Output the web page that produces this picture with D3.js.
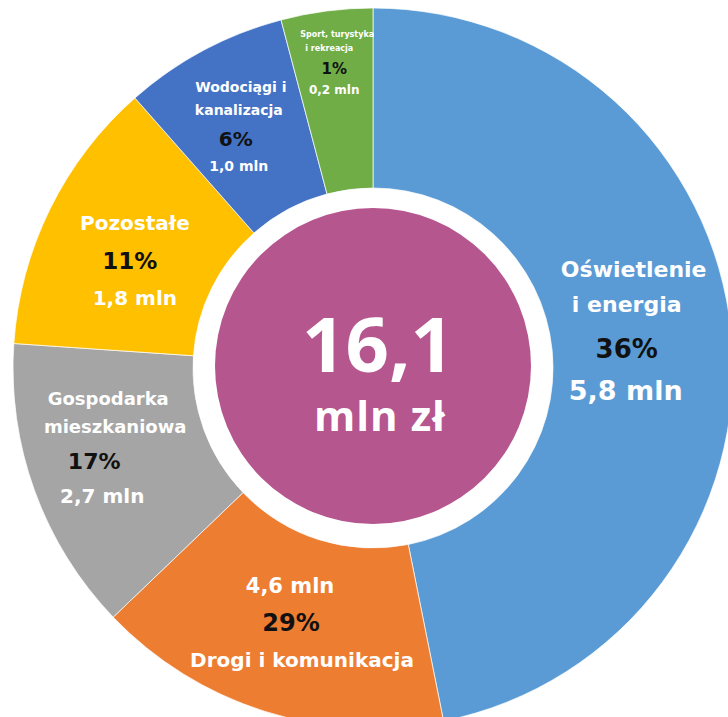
<!DOCTYPE html>
<html>
<head>
<meta charset="utf-8">
<script src="https://cdn.jsdelivr.net/npm/d3@7"></script>
<style>
  body { margin: 0; background: #fff; }
  svg { display: block; }
</style>
</head>
<body>
<div id="chart"></div>
<script>
const categories = ["Oświetlenie i energia", "Drogi i komunikacja", "Gospodarka mieszkaniowa", "Pozostałe", "Wodociągi i kanalizacja", "Sport, turystyka i rekreacja"]
const nameLines = [["Oświetlenie", "i energia"], ["Drogi i komunikacja"], ["Gospodarka", "mieszkaniowa"], ["Pozostałe"], ["Wodociągi i", "kanalizacja"], ["Sport, turystyka", "i rekreacja"]]
const shares = [36, 29, 17, 11, 6, 1]   // % printed on the slices
const amounts = [5.8, 4.6, 2.7, 1.8, 1.0, 0.2]   // mln zł
// the slices in the picture are not drawn to scale, these are the angles as drawn (deg)
const drawnSpan = [168.7, 57.5, 47.7, 44.7, 26.6, 14.8]
const total = 16.1

const colors = ["#5B9BD5", "#ED7D31", "#A5A5A5", "#FFC000", "#4472C4", "#70AD47"]

// label lines per slice: what to print, offset from the slice centroid, font size
const labelLayout = [
  [["name0", -8, -64, 22], ["name1", -15, -29, 22], ["pct", -15, 17, 26], ["val", -16, 59, 27]],
  [["val", -2, -33, 21], ["pct", -1, 5, 24], ["name0", 10, 41, 20]],
  [["name0", -11, -55, 18], ["name1", -4, -27, 18], ["pct", -25, 9, 22], ["val", -17, 43, 20]],
  [["name0", 4, -19, 20], ["pct", -1, 20, 23], ["val", 4, 56, 20]],
  [["name0", -5, -38, 14], ["name1", -7, -15, 14], ["pct", -10, 16, 20], ["val", -7, 41, 14]],
  [["name0", -1, -63, 8], ["name1", -9, -49, 8], ["pct", -4, -26, 15], ["val", -4, -6, 12]]
]

const width = 728
const height = 717
const cx = 373
const cy = 368
const outerR = 360
const innerR = 180
const hubR = 158

const pl = d3.formatLocale({ decimal: ",", thousands: " ", grouping: [3], currency: ["", " zł"] })
const fmt = pl.format(".1f")

const svg = d3.select("#chart").append("svg")
  .attr("width", width)
  .attr("height", height)

svg.append("rect")
  .attr("width", width)
  .attr("height", height)
  .attr("fill", "#fff")

const g = svg.append("g").attr("transform", "translate(" + cx + "," + cy + ")")

const pie = d3.pie()
  .sort(null)
  .value(d => d)
  .startAngle(0)
  .endAngle(2 * Math.PI)

const arcs = pie(drawnSpan)

const arc = d3.arc()
  .innerRadius(innerR)
  .outerRadius(outerR)

g.selectAll(".slice")
  .data(arcs)
  .enter()
  .append("path")
  .attr("class", "slice")
  .attr("d", arc)
  .attr("fill", (d, i) => colors[i])
  .attr("stroke", "#fff")
  .attr("stroke-opacity", 0.7)
  .attr("stroke-width", 1)

// purple hub
g.append("circle")
  .attr("cx", 0)
  .attr("cy", -2)
  .attr("r", hubR)
  .attr("fill", "#B5568F")

g.append("text")
  .attr("x", 5)
  .attr("y", 4)
  .attr("text-anchor", "middle")
  .style("font-family", "'Open Sans', sans-serif")
  .style("font-weight", 700)
  .style("font-size", "76px")
  .attr("fill", "#fff")
  .text(fmt(total))

g.append("text")
  .attr("x", 7)
  .attr("y", 63)
  .attr("text-anchor", "middle")
  .style("font-family", "'Open Sans', sans-serif")
  .style("font-weight", 700)
  .style("font-size", "42px")
  .style("letter-spacing", "1px")
  .attr("fill", "#fff")
  .text("mln zł")

function lineText(key, i) {
  if (key === "pct") return shares[i] + "%"
  if (key === "val") return fmt(amounts[i]) + " mln"
  return nameLines[i][key === "name0" ? 0 : 1]
}

const labels = g.selectAll(".label")
  .data(arcs)
  .enter()
  .append("g")
  .attr("class", "label")
  .attr("transform", d => "translate(" + arc.centroid(d) + ")")

labels.each(function (d, i) {
  d3.select(this)
    .selectAll("text")
    .data(labelLayout[i])
    .enter()
    .append("text")
    .attr("x", l => l[1])
    .attr("y", l => l[2])
    .attr("text-anchor", "middle")
    .style("font-family", "'DejaVu Sans', sans-serif")
    .style("font-weight", 700)
    .style("font-size", l => l[3] + "px")
    .attr("fill", l => (l[0] === "pct" ? "#111" : "#fff"))
    .text(l => lineText(l[0], i))
})
</script>
</body>
</html>
